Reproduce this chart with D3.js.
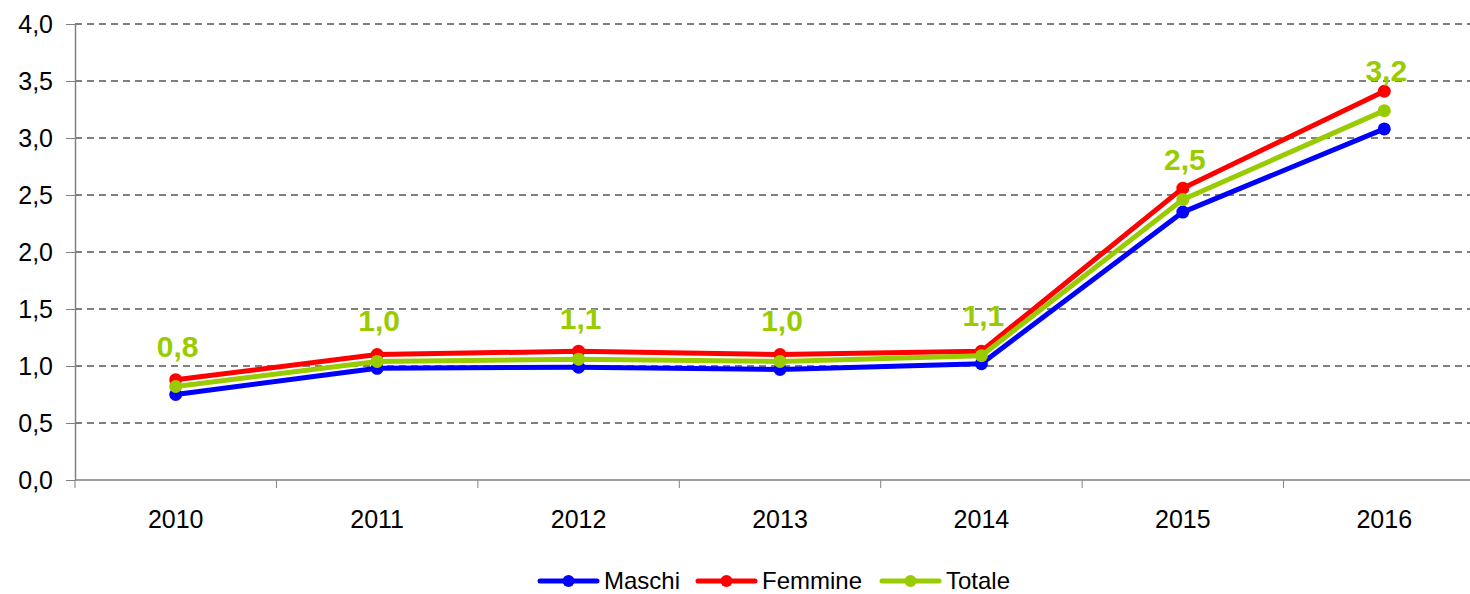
<!DOCTYPE html>
<html>
<head>
<meta charset="utf-8">
<script src="https://cdn.jsdelivr.net/npm/d3@7"></script>
<style>
  body { margin: 0; background: #fff; }
  #chart { width: 1470px; height: 594px; }
  text { font-family: "Liberation Sans", Arial, sans-serif; }
</style>
</head>
<body>
<div id="chart"></div>
<script>
// Data
const years = ["2010", "2011", "2012", "2013", "2014", "2015", "2016"];
const maschi = [0.75, 0.98, 0.99, 0.97, 1.02, 2.35, 3.08];
const femmine = [0.88, 1.10, 1.13, 1.10, 1.13, 2.56, 3.41];
const totale = [0.82, 1.04, 1.06, 1.04, 1.09, 2.46, 3.24];
const yTicks = [0, 0.5, 1, 1.5, 2, 2.5, 3, 3.5, 4];

const series = [
    { name: "Maschi", values: maschi, color: "#0000ff" },
    { name: "Femmine", values: femmine, color: "#ff0000" },
    { name: "Totale", values: totale, color: "#99cc00" }
];

const width = 1470, height = 594;
const margin = { top: 24, right: -15, bottom: 114, left: 75 };

const svg = d3.select("#chart")
    .append("svg")
    .attr("width", width)
    .attr("height", height);

const x = d3.scaleBand()
    .domain(years)
    .range([margin.left, width - margin.right]);

const y = d3.scaleLinear()
    .domain([0, 4])
    .range([height - margin.bottom, margin.top]);

const fmt = v => d3.format(".1f")(v).replace(".", ",");

// Dashed gridlines
svg.append("g")
    .selectAll("line")
    .data(yTicks.filter(d => d > 0))
    .enter().append("line")
    .attr("x1", margin.left)
    .attr("x2", width - margin.right)
    .attr("y1", d => y(d))
    .attr("y2", d => y(d))
    .attr("stroke", "#000")
    .attr("stroke-width", 1)
    .attr("stroke-dasharray", "7,5");

// Y axis
const yAxis = svg.append("g")
    .attr("transform", `translate(${margin.left},0)`)
    .call(d3.axisLeft(y).tickValues(yTicks).tickFormat(fmt).tickSize(9).tickSizeOuter(0));
yAxis.select(".domain").attr("stroke", "#808080").attr("stroke-width", 1.5);
yAxis.selectAll(".tick line").attr("stroke", "#808080");
yAxis.selectAll(".tick text")
    .attr("font-size", 25)
    .attr("font-family", "Liberation Sans, Arial, sans-serif")
    .attr("fill", "#000")
    .attr("x", -22);

// X axis with ticks between categories
const xAxis = svg.append("g")
    .attr("transform", `translate(0,${y(0)})`);
xAxis.append("line")
    .attr("x1", margin.left)
    .attr("x2", width - margin.right)
    .attr("stroke", "#808080")
    .attr("stroke-width", 1.5);
xAxis.selectAll(".xtick")
    .data(years.concat(["end"]))
    .enter().append("line")
    .attr("class", "xtick")
    .attr("x1", (d, i) => margin.left + i * x.step())
    .attr("x2", (d, i) => margin.left + i * x.step())
    .attr("y1", 0)
    .attr("y2", 8)
    .attr("stroke", "#808080");
xAxis.selectAll(".xlabel")
    .data(years)
    .enter().append("text")
    .attr("x", d => x(d) + x.bandwidth() / 2)
    .attr("y", 48)
    .attr("text-anchor", "middle")
    .attr("font-size", 25)
    .attr("fill", "#000")
    .text(d => d);

// Lines and points
const line = d3.line()
    .x((d, i) => x(years[i]) + x.bandwidth() / 2)
    .y(d => y(d));

series.forEach(s => {
    const g = svg.append("g");
    g.append("path")
        .datum(s.values)
        .attr("d", line)
        .attr("fill", "none")
        .attr("stroke", s.color)
        .attr("stroke-width", 5)
        .attr("stroke-linejoin", "round");
    g.selectAll("circle")
        .data(s.values)
        .enter().append("circle")
        .attr("cx", (d, i) => x(years[i]) + x.bandwidth() / 2)
        .attr("cy", d => y(d))
        .attr("r", 6.5)
        .attr("fill", s.color);
});

// Data labels for Totale
svg.append("g")
    .selectAll("text")
    .data(totale)
    .enter().append("text")
    .attr("x", (d, i) => x(years[i]) + x.bandwidth() / 2 + 2)
    .attr("y", d => y(d) - 30)
    .attr("text-anchor", "middle")
    .attr("font-size", 30)
    .attr("font-weight", "bold")
    .attr("fill", "#99cc00")
    .text(d => fmt(d));

// Legend
const legendX = [540, 698, 882];
const legend = svg.append("g")
    .attr("transform", "translate(0,581)");
series.forEach((s, i) => {
    const lg = legend.append("g").attr("transform", `translate(${legendX[i]},0)`);
    lg.append("line")
        .attr("x1", 0).attr("x2", 57)
        .attr("stroke", s.color)
        .attr("stroke-width", 5)
        .attr("stroke-linecap", "round");
    lg.append("circle")
        .attr("cx", 28.5)
        .attr("r", 6)
        .attr("fill", s.color);
    lg.append("text")
        .attr("x", 64)
        .attr("y", 8)
        .attr("font-size", 24)
        .attr("fill", "#000")
        .text(s.name);
});
</script>
</body>
</html>
